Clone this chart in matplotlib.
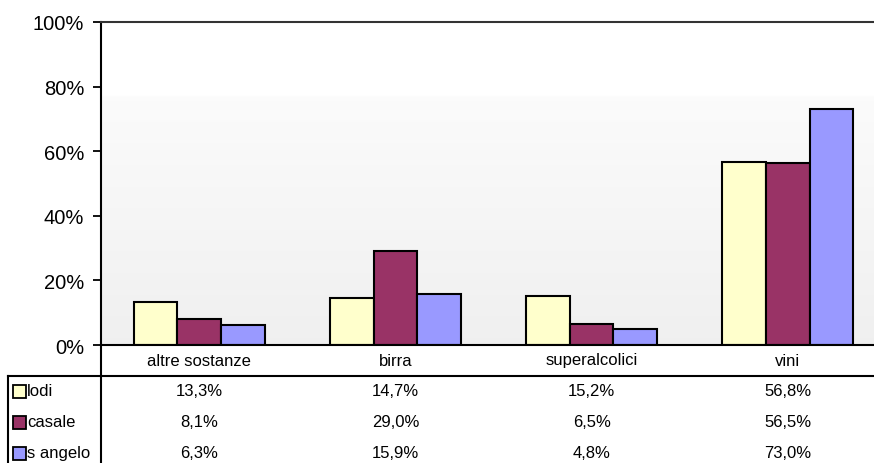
import numpy as np
import matplotlib
matplotlib.use("Agg")
import matplotlib.pyplot as plt
from matplotlib.transforms import blended_transform_factory
from matplotlib.lines import Line2D
from matplotlib.patches import Rectangle

categories = ['altre sostanze', 'birra', 'superalcolici', 'vini']
series_names = ['lodi', 'casale', 's angelo']
lodi = [13.3, 14.7, 15.2, 56.8]
casale = [8.1, 29.0, 6.5, 56.5]
s_angelo = [6.3, 15.9, 4.8, 73.0]
colors = ['#FFFFCC', '#993366', '#9999FF']
yticks = [0, 20, 40, 60, 80, 100]

plt.rcParams['font.family'] = ['Liberation Sans', 'DejaVu Sans']

W, H = 874, 464
fig = plt.figure(figsize=(W / 100, H / 100), dpi=100)
fig.patch.set_facecolor('white')

def fx(px):
    return px / W

def fy(py):
    return 1 - py / H

left_px, right_px, top_px, bot_px = 101, 886, 23, 346
ax = fig.add_axes([fx(left_px), fy(bot_px), fx(right_px - left_px), (bot_px - top_px) / H])

# gradient background
yy = np.linspace(0, 1, 200)  # 0 at bottom
vals = 0.94 + 0.045 * (yy / 0.77)
vals = np.where(yy > 0.77, 1.0, vals)
img = np.dstack([vals[:, None]] * 3)
ax.imshow(img, extent=[-0.5, 3.5, 0, 100], origin='lower', aspect='auto', zorder=0)

data = [lodi, casale, s_angelo]
x = np.arange(len(categories))
bw = 1 / 4.5
for i, (vals_s, c) in enumerate(zip(data, colors)):
    ax.bar(x + (i - 1) * bw, vals_s, width=bw, color=c, edgecolor='black', linewidth=1.5, zorder=2)

ax.set_xlim(-0.5, 3.5)
ax.set_ylim(0, 100)
ax.set_yticks(yticks)
ax.set_yticklabels([f'{v}%' for v in yticks], fontsize=14.5)
ax.tick_params(axis='y', direction='out', length=6, width=1.3, pad=6)
ax.set_xticks([])
for s in ['right', 'bottom']:
    ax.spines[s].set_visible(False)
for s in ['left', 'top']:
    ax.spines[s].set_linewidth(1.5)
ax.spines['top'].set_color('#333333')

# data table
tr = blended_transform_factory(ax.transData, fig.transFigure)
lw = 1.5
fig.add_artist(Line2D([fx(left_px), 1], [fy(bot_px), fy(bot_px)], color='black', lw=lw))
fig.add_artist(Line2D([fx(8), 1], [fy(377), fy(377)], color='black', lw=lw))
fig.add_artist(Line2D([fx(left_px), fx(left_px)], [fy(bot_px), 0], color='black', lw=lw))
fig.add_artist(Line2D([fx(8), fx(8)], [fy(377), 0], color='black', lw=lw))

for xi, cat in zip(x, categories):
    fig.text(xi, fy(361), cat, transform=tr, ha='center', va='center', fontsize=12)

row_y = [392, 423, 454]
for r, (name, vals_s, c) in enumerate(zip(series_names, data, colors)):
    yc = row_y[r]
    fig.add_artist(Rectangle((fx(13), fy(yc + 6.5)), fx(13), 13 / H, facecolor=c,
                             edgecolor='black', lw=1.3, transform=fig.transFigure))
    fig.text(fx(27), fy(yc), name, ha='left', va='center', fontsize=12)
    for xi, v in zip(x, vals_s):
        fig.text(xi, fy(yc), f'{v:.1f}%'.replace('.', ','), transform=tr,
                 ha='center', va='center', fontsize=12)

fig.savefig('out.png', dpi=100)
